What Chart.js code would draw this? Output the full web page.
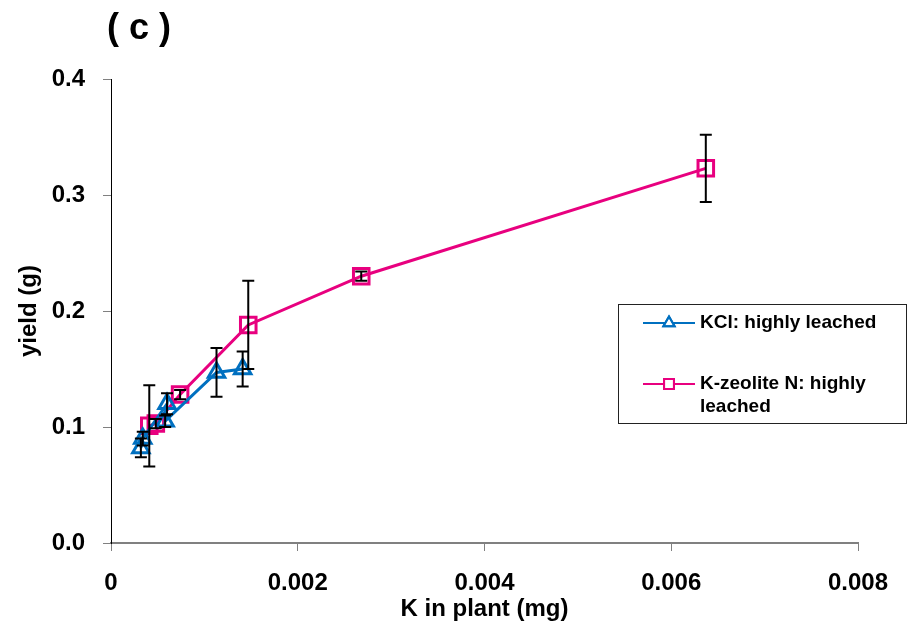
<!DOCTYPE html>
<html>
<head>
<meta charset="utf-8">
<script src="https://cdn.jsdelivr.net/npm/chart.js@4/dist/chart.umd.min.js"></script>
<style>
  body { margin: 0; background: #fff; }
  #wrap { width: 910px; height: 637px; }
</style>
</head>
<body>
<div id="wrap"><canvas id="myChart" width="910" height="637"></canvas></div>
<script>
// K in plant (mg) vs yield (g), series
const kclX = [0.00032, 0.00034, 0.00060, 0.00058, 0.00113, 0.00141];
const kclY = [0.082, 0.090, 0.120, 0.105, 0.147, 0.150];
const kclErr = [0.008, 0.006, 0.009, 0.005, 0.021, 0.015];

const zeoX = [0.00041, 0.00048, 0.00074, 0.00147, 0.00268, 0.00637];
const zeoY = [0.101, 0.103, 0.128, 0.188, 0.230, 0.323];
const zeoErr = [0.035, 0.004, 0.004, 0.038, 0.004, 0.029];

const seriesNames = ["KCl: highly leached", "K-zeolite N: highly leached"];
const xTicks = [0, 0.002, 0.004, 0.006, 0.008];
const yTicks = [0, 0.1, 0.2, 0.3, 0.4];

const blue = "#0070C0";
const pink = "#E8007F";
const errors = [kclErr, zeoErr];
const fontFam = "'Liberation Sans', Arial, sans-serif";

const toPoints = (xs, ys) => xs.map((x, i) => ({ x: x, y: ys[i] }));

// error bars drawn from the y scale
const errorBars = {
    id: "errorBars",
    afterDatasetsDraw(chart) {
        const ctx = chart.ctx;
        const yScale = chart.scales.y;
        ctx.save();
        ctx.strokeStyle = "#000";
        ctx.lineWidth = 2;
        chart.data.datasets.forEach((ds, d) => {
            const meta = chart.getDatasetMeta(d);
            meta.data.forEach((pt, i) => {
                const v = ds.data[i].y;
                const e = errors[d][i];
                const top = yScale.getPixelForValue(v + e);
                const bot = yScale.getPixelForValue(v - e);
                ctx.beginPath();
                ctx.moveTo(pt.x, top); ctx.lineTo(pt.x, bot);
                ctx.moveTo(pt.x - 6, top); ctx.lineTo(pt.x + 6, top);
                ctx.moveTo(pt.x - 6, bot); ctx.lineTo(pt.x + 6, bot);
                ctx.stroke();
            });
        });
        ctx.restore();
    }
};

// panel label and boxed legend
const extras = {
    id: "extras",
    afterDraw(chart) {
        const ctx = chart.ctx;
        ctx.save();
        ctx.fillStyle = "#000";
        ctx.font = "bold 36px " + fontFam;
        ctx.textBaseline = "middle";
        ctx.textAlign = "left";
        ctx.fillText("( c )", 107, 29);

        // legend box
        ctx.strokeStyle = "#222";
        ctx.lineWidth = 1;
        ctx.strokeRect(618.5, 304.5, 288, 119);

        ctx.font = "bold 19px " + fontFam;
        const rows = [
            { y: 323, color: blue, style: "triangle", lines: [seriesNames[0]] },
            { y: 384, color: pink, style: "rect", lines: ["K-zeolite N: highly", "leached"] }
        ];
        rows.forEach((r) => {
            ctx.strokeStyle = r.color;
            ctx.lineWidth = 2;
            ctx.beginPath();
            ctx.moveTo(643, r.y); ctx.lineTo(695, r.y);
            ctx.stroke();
            ctx.fillStyle = "#fff";
            Chart.helpers.drawPoint(ctx, { pointStyle: r.style, radius: r.style === "rect" ? 7 : 6.5, borderWidth: 2 }, 669, r.y);
            ctx.stroke();
            ctx.fillStyle = "#000";
            r.lines.forEach((t, k) => ctx.fillText(t, 700, r.y + k * 23));
        });
        ctx.restore();
    }
};

const ctx = document.getElementById("myChart").getContext("2d");

const config = {
    type: "line",
    data: {
        datasets: [{
            label: seriesNames[0],
            data: toPoints(kclX, kclY),
            borderColor: blue,
            backgroundColor: "rgba(0,0,0,0)",
            borderWidth: 3,
            pointStyle: "triangle",
            pointRadius: 9.5,
            pointBorderWidth: 3,
            pointBorderColor: blue,
            tension: 0
        }, {
            label: seriesNames[1],
            data: toPoints(zeoX, zeoY),
            borderColor: pink,
            backgroundColor: "rgba(0,0,0,0)",
            borderWidth: 3,
            pointStyle: "rect",
            pointRadius: 11,
            pointBorderWidth: 3,
            pointBorderColor: pink,
            tension: 0
        }]
    },
    options: {
        responsive: false,
        animation: false,
        layout: { padding: { top: 79, right: 52, left: 0, bottom: 0 } },
        plugins: { legend: { display: false }, tooltip: { enabled: false } },
        scales: {
            x: {
                type: "linear",
                min: xTicks[0],
                max: xTicks[xTicks.length - 1],
                afterBuildTicks: (s) => { s.ticks = xTicks.map((v) => ({ value: v })); },
                afterFit: (s) => { s.height = 94; },
                border: { color: "#808080", width: 2 },
                grid: { drawOnChartArea: false, drawTicks: true, tickLength: 8, color: "#808080" },
                ticks: {
                    color: "#000",
                    padding: 18,
                    font: { family: fontFam, size: 24, weight: "bold" },
                    callback: (v) => v === 0 ? "0" : v.toFixed(3)
                },
                title: {
                    display: true,
                    text: "K in plant (mg)",
                    color: "#000",
                    padding: { top: 0, bottom: 13 },
                    font: { family: fontFam, size: 24, weight: "bold" }
                }
            },
            y: {
                type: "linear",
                min: yTicks[0],
                max: yTicks[yTicks.length - 1],
                afterBuildTicks: (s) => { s.ticks = yTicks.map((v) => ({ value: v })); },
                afterFit: (s) => { s.width = 111; },
                border: { color: "#000", width: 1 },
                grid: { drawOnChartArea: false, drawTicks: true, tickLength: 8, color: "#808080" },
                ticks: {
                    color: "#000",
                    padding: 18,
                    font: { family: fontFam, size: 24, weight: "bold" },
                    callback: (v) => v.toFixed(1)
                },
                title: {
                    display: true,
                    text: "yield (g)",
                    color: "#000",
                    padding: { top: 15, bottom: 0 },
                    font: { family: fontFam, size: 24, weight: "bold" }
                }
            }
        }
    },
    plugins: [errorBars, extras]
};

const myChart = new Chart(ctx, config);
</script>
</body>
</html>
